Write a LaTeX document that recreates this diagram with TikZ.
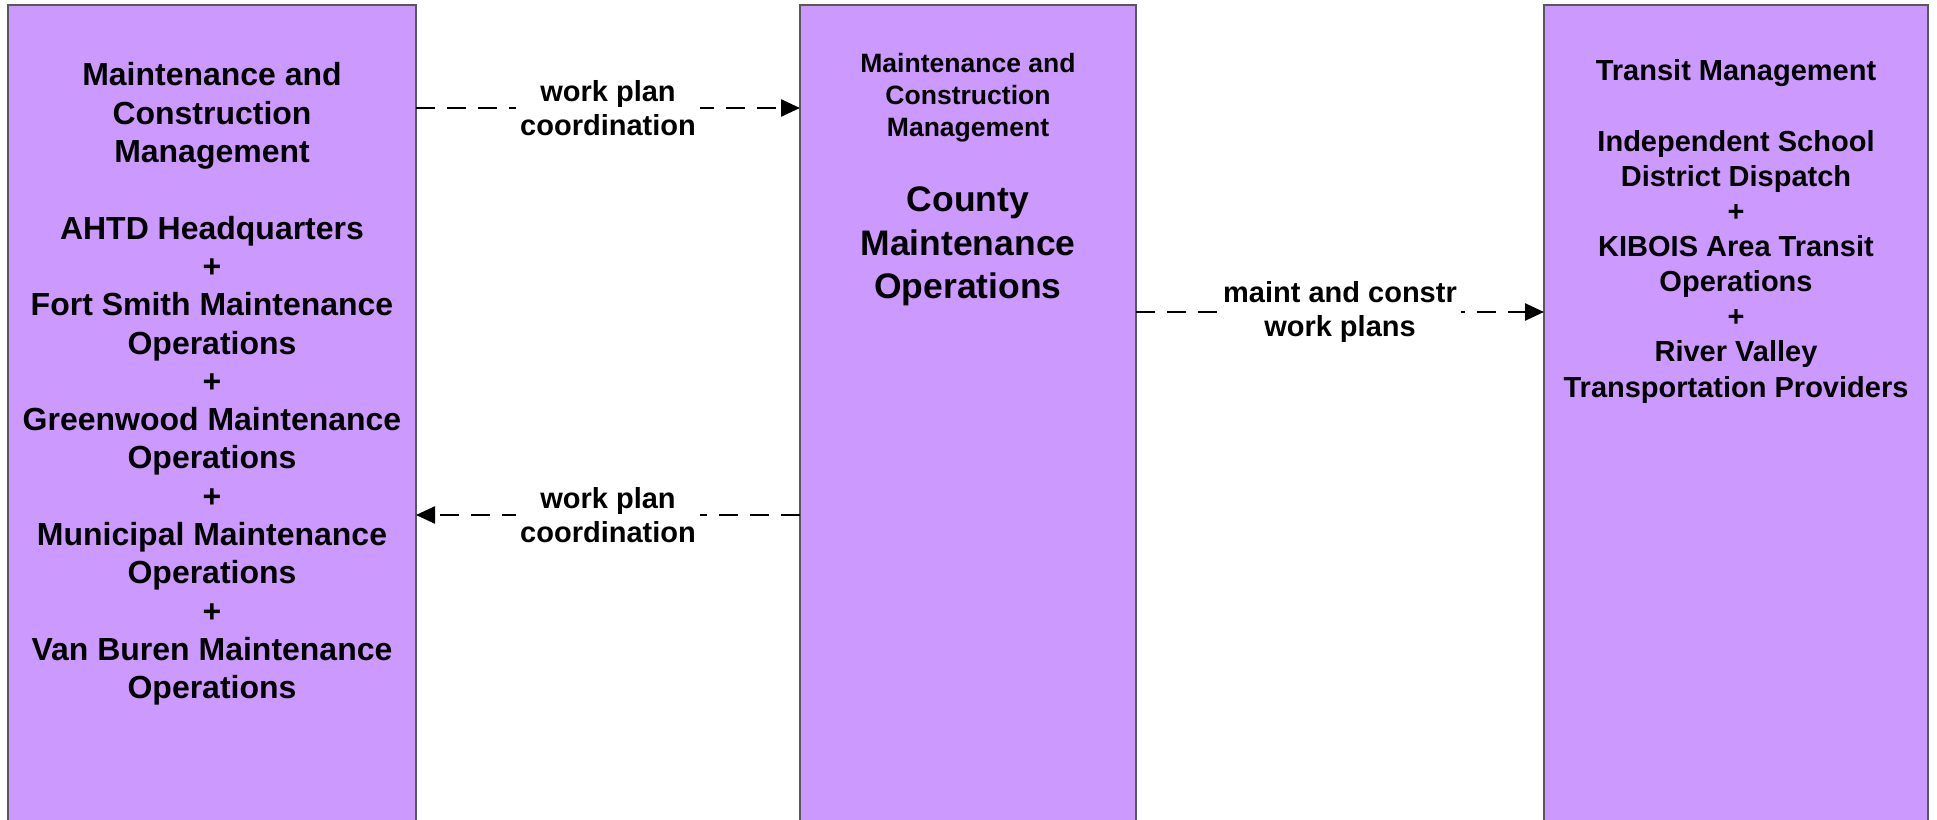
\documentclass[tikz,border=0pt]{standalone}
\usepackage{fontspec}
\setmainfont{Liberation Sans}
\usepackage{xcolor}
\usetikzlibrary{positioning,arrows.meta}
\definecolor{boxfill}{RGB}{204,153,255}

\begin{document}
\begin{tikzpicture}[
  sysbox/.style={draw=black!65, fill=boxfill, line width=0.5pt, inner sep=0pt, outer sep=0pt,
                 minimum height=82.5mm},
  txt/.style={anchor=north, align=center, inner sep=0pt, font=\bfseries},
  flow/.style={-{Triangle[length=1.9mm, width=1.7mm]}, line width=0.7pt,
               dash pattern=on 1.9mm off 1.2mm},
  lab/.style={fill=white, align=center, inner sep=0.4mm,
              font=\fontsize{8.25}{9.7}\selectfont\bfseries},
]
\path[use as bounding box, clip] (0,0) rectangle (19.37,-8.20);

% the three columns run off the bottom edge
\node[sysbox, minimum width=40.8mm] (lbox) at (2.12,-4.175) {};
\node[sysbox, minimum width=33.6mm] (mbox) at (9.68,-4.175) {};
\node[sysbox, minimum width=38.4mm] (rbox) at (17.36,-4.175) {};

\node[txt, font=\fontsize{9.1}{10.9}\selectfont\bfseries] (ltxt) at (2.12,-0.62)
  {Maintenance and\\Construction\\Management\\[10.9pt]
   AHTD Headquarters\\+\\Fort Smith Maintenance\\Operations\\+\\
   Greenwood Maintenance\\Operations\\+\\Municipal Maintenance\\Operations\\+\\
   Van Buren Maintenance\\Operations};

\node[txt, font=\fontsize{7.55}{9.1}\selectfont\bfseries] (mhead) at (9.68,-0.53)
  {Maintenance and\\Construction\\Management};
\node[txt, font=\fontsize{10.1}{12.4}\selectfont\bfseries] (mtxt) at (9.68,-1.86)
  {County\\Maintenance\\Operations};

\node[txt, font=\fontsize{8.25}{10}\selectfont\bfseries] (rtxt) at (17.36,-0.59)
  {Transit Management\\[10pt]
   Independent School\\District Dispatch\\+\\KIBOIS Area Transit\\Operations\\+\\
   River Valley\\Transportation Providers};

\coordinate (yplan) at (0,-1.08);
\coordinate (yback) at (0,-5.15);
\coordinate (ywork) at (0,-3.12);

\draw[flow] (lbox.east |- yplan) -- node[lab]{work plan\\coordination} (mbox.west |- yplan);
\draw[flow] (mbox.west |- yback) -- node[lab]{work plan\\coordination} (lbox.east |- yback);
\draw[flow] (mbox.east |- ywork) -- node[lab]{maint and constr\\work plans} (rbox.west |- ywork);
\end{tikzpicture}
\end{document}
